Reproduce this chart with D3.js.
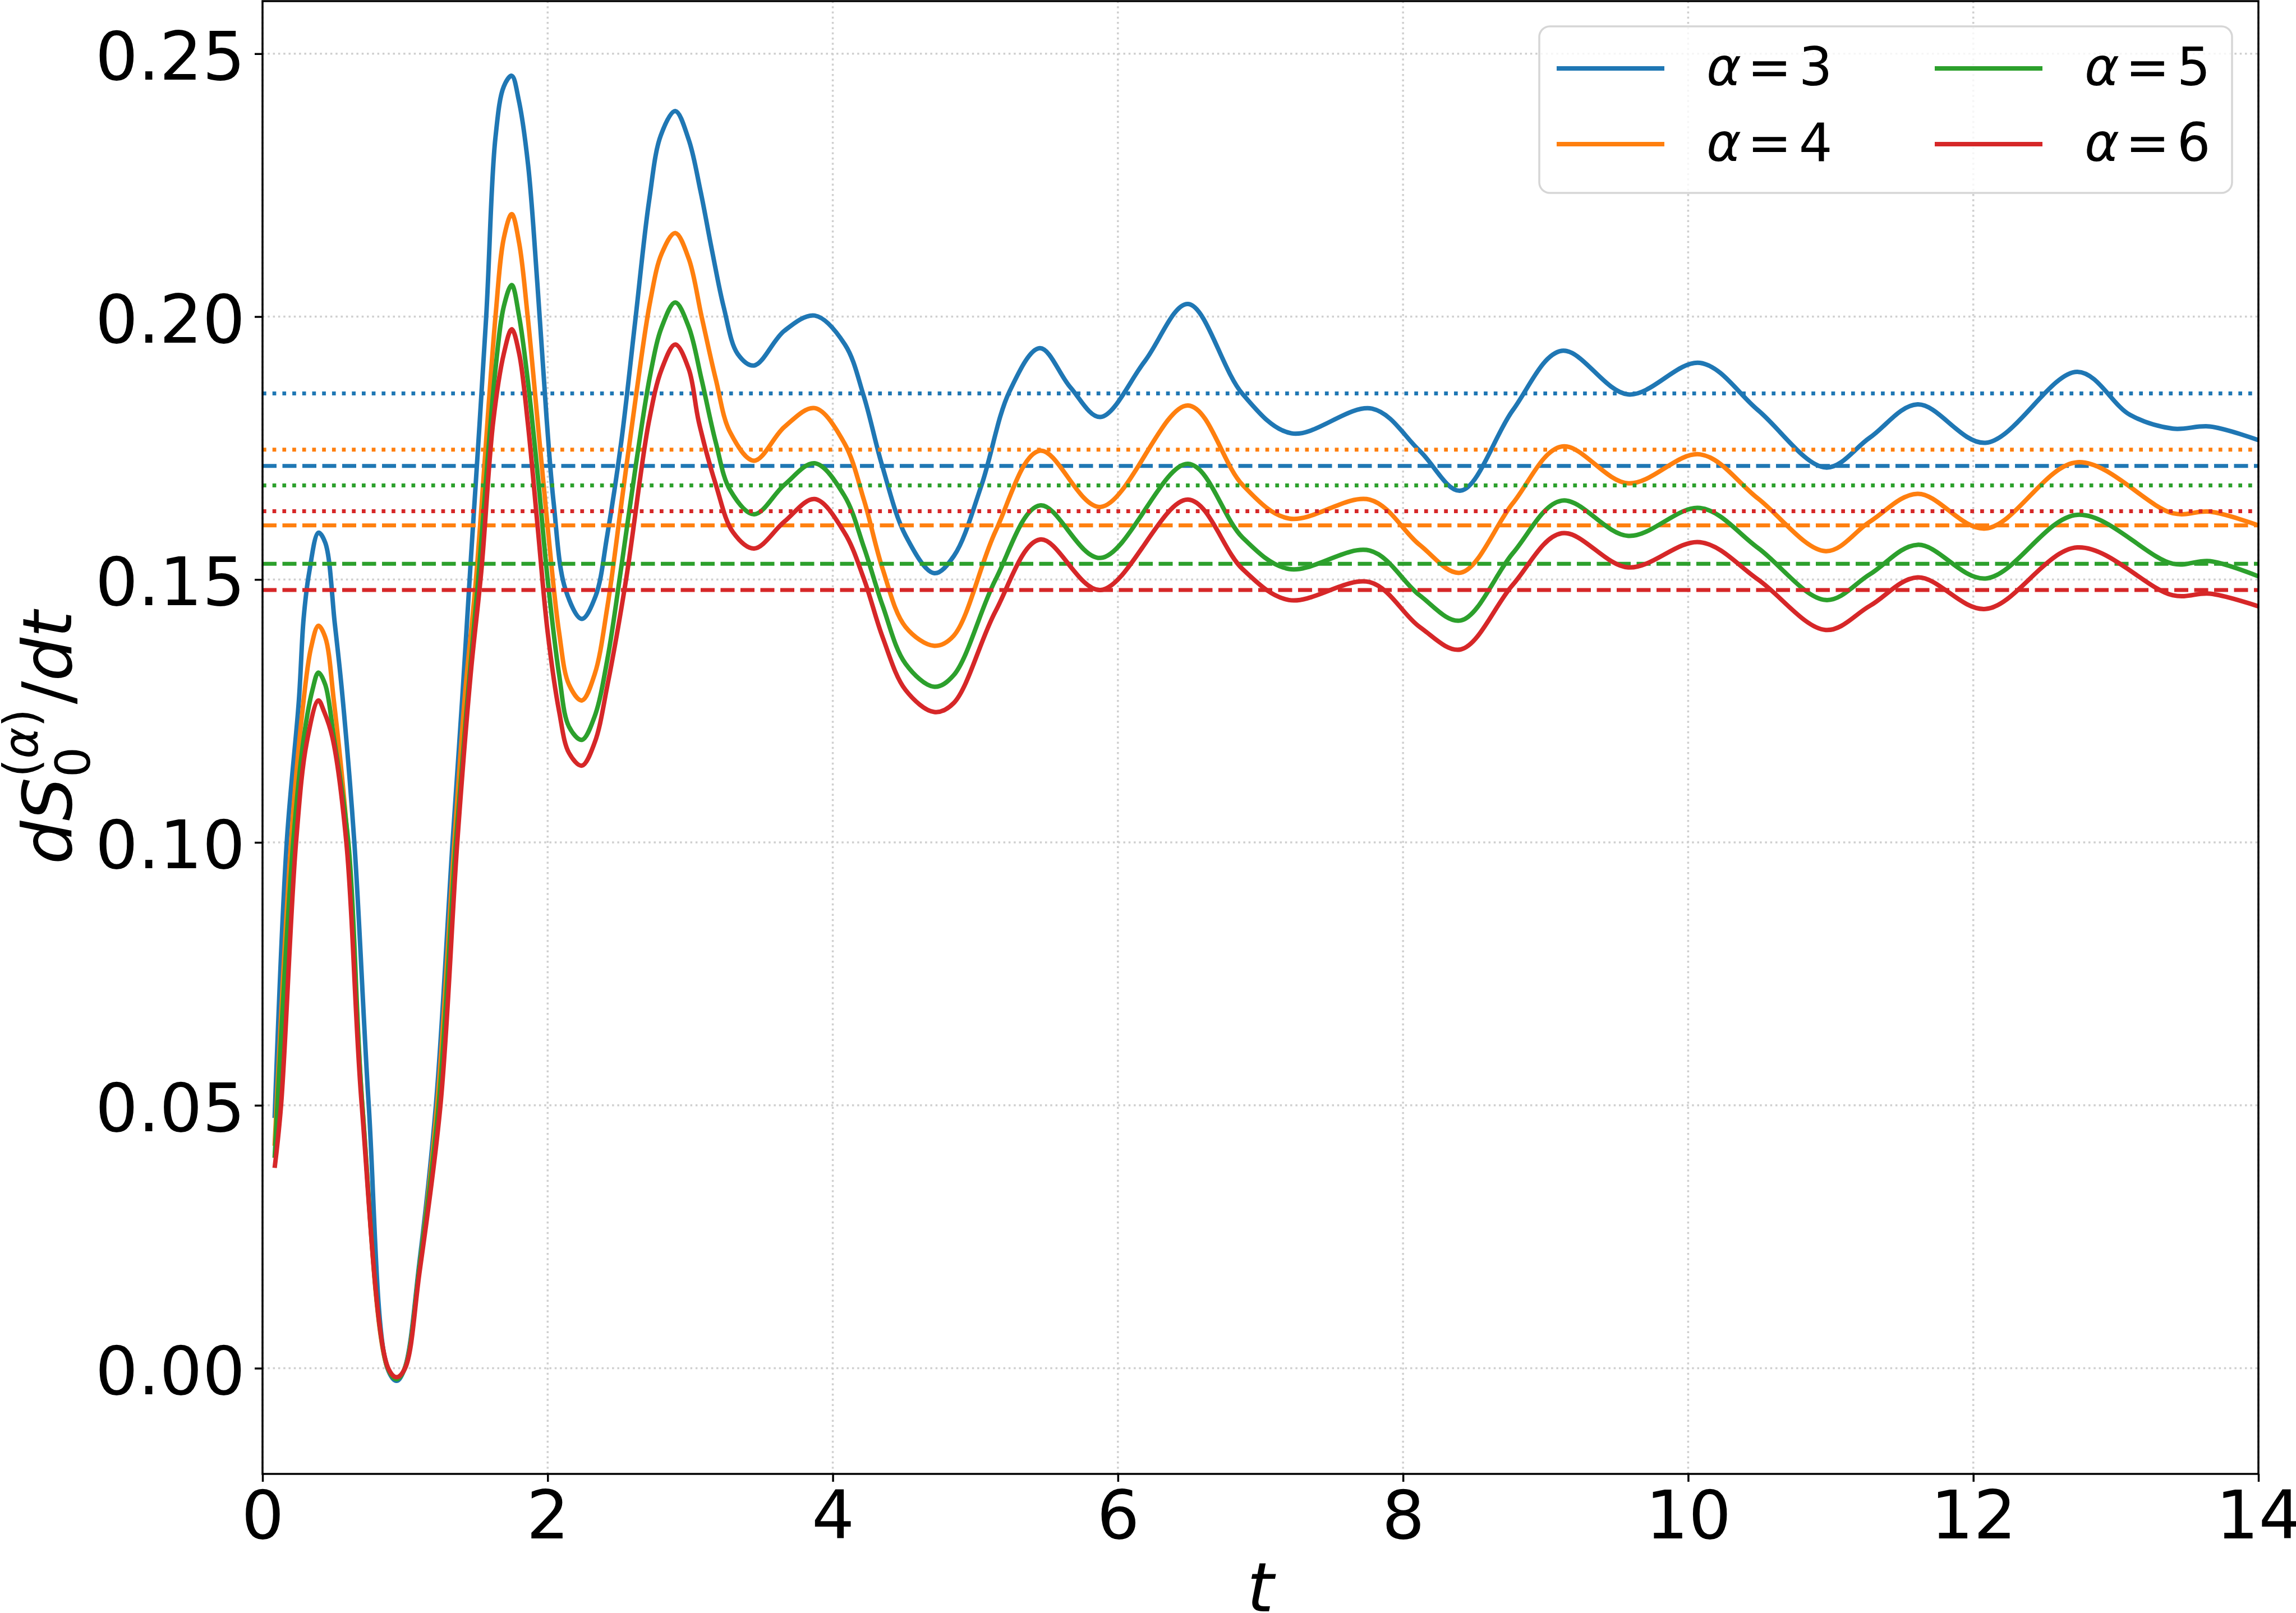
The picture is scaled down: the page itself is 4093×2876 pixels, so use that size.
<!DOCTYPE html>
<html>
<head>
<meta charset="utf-8">
<script src="https://cdn.jsdelivr.net/npm/d3@7"></script>
<style>
  html, body { margin: 0; padding: 0; background: #ffffff; }
  svg { display: block; font-family: "DejaVu Sans", sans-serif; }
</style>
</head>
<body>
<div id="chart"></div>
<script>
// values: [t, dS/dt]
const alphas = [3, 4, 5, 6];
const colors = ["#1f77b4", "#ff7f0e", "#2ca02c", "#d62728"];

const curveAlpha3 = [
  [0.085, 0.0476], [0.17, 0.100], [0.255, 0.127], [0.288, 0.1425], [0.327, 0.1513], [0.392, 0.1589],
  [0.44, 0.157], [0.507, 0.1416], [0.56, 0.128], [0.644, 0.100], [0.745, 0.050], [0.876, 0.0],
  [0.941, -0.0024], [0.997, 0.0], [1.10, 0.020], [1.216, 0.050], [1.333, 0.100], [1.40, 0.127],
  [1.464, 0.155], [1.569, 0.200], [1.634, 0.2341], [1.693, 0.2438], [1.748, 0.2458], [1.797, 0.2412],
  [1.863, 0.2288], [1.928, 0.2062], [1.993, 0.1805], [2.042, 0.1646], [2.124, 0.1482], [2.239, 0.1425],
  [2.337, 0.1469], [2.418, 0.1584], [2.516, 0.1761], [2.614, 0.1991], [2.712, 0.2221], [2.794, 0.2345],
  [2.895, 0.2391], [2.99, 0.2336], [3.072, 0.2239], [3.154, 0.2124], [3.235, 0.2018], [3.333, 0.1929],
  [3.448, 0.1907], [3.66, 0.1973], [3.873, 0.2002], [4.085, 0.1947], [4.216, 0.185], [4.346, 0.1717],
  [4.51, 0.1584], [4.712, 0.1512], [4.85, 0.1545], [5.044, 0.168], [5.24, 0.1858], [5.453, 0.194],
  [5.665, 0.1866], [5.877, 0.1809], [6.188, 0.1915], [6.492, 0.2024], [6.874, 0.1853], [7.217, 0.1778],
  [7.783, 0.1825], [8.116, 0.1745], [8.404, 0.1669], [8.77, 0.1822], [9.113, 0.1935], [9.58, 0.1852],
  [10.083, 0.1912], [10.49, 0.1822], [10.965, 0.1713], [11.275, 0.177], [11.609, 0.1833], [12.086, 0.1760],
  [12.73, 0.1895], [13.10, 0.1813], [13.40, 0.1787], [13.66, 0.1791], [14.0, 0.1765]
];

const curveAlpha4 = [
  [0.085, 0.0423], [0.20, 0.100], [0.28, 0.125], [0.34, 0.137], [0.392, 0.1412], [0.44, 0.139],
  [0.50, 0.127], [0.598, 0.100], [0.70, 0.050], [0.878, 0.0], [0.941, -0.002], [0.998, 0.0],
  [1.10, 0.019], [1.225, 0.050], [1.346, 0.100], [1.42, 0.128], [1.497, 0.150], [1.634, 0.200],
  [1.693, 0.215], [1.748, 0.2195], [1.80, 0.214], [1.86, 0.200], [1.93, 0.180], [2.0, 0.160],
  [2.08, 0.140], [2.15, 0.130], [2.24, 0.127], [2.33, 0.132], [2.42, 0.145], [2.52, 0.165],
  [2.62, 0.185], [2.72, 0.203], [2.80, 0.212], [2.895, 0.2159], [2.99, 0.211], [3.08, 0.200],
  [3.18, 0.188], [3.28, 0.178], [3.448, 0.1726], [3.66, 0.179], [3.873, 0.1826], [4.08, 0.176],
  [4.22, 0.165], [4.35, 0.152], [4.51, 0.141], [4.712, 0.1374], [4.848, 0.1393], [5.142, 0.1592],
  [5.453, 0.1745], [5.877, 0.1638], [6.492, 0.1831], [6.874, 0.168], [7.20, 0.1616], [7.766, 0.1652],
  [8.116, 0.1566], [8.404, 0.1513], [8.77, 0.1645], [9.113, 0.1753], [9.58, 0.1683], [10.083, 0.1738],
  [10.49, 0.1654], [10.965, 0.1554], [11.275, 0.161], [11.609, 0.1663], [12.086, 0.1597], [12.73, 0.1723],
  [13.40, 0.1626], [13.66, 0.1629], [14.0, 0.1603]
];

const curveAlpha5 = [
  [0.085, 0.040], [0.215, 0.100], [0.29, 0.120], [0.35, 0.129], [0.392, 0.1323], [0.44, 0.130],
  [0.50, 0.120], [0.602, 0.100], [0.70, 0.050], [0.879, 0.0], [0.941, -0.0021], [0.999, 0.0],
  [1.10, 0.019], [1.235, 0.050], [1.356, 0.100], [1.44, 0.128], [1.513, 0.150], [1.634, 0.190],
  [1.693, 0.202], [1.748, 0.206], [1.80, 0.200], [1.86, 0.188], [1.93, 0.170], [2.0, 0.150],
  [2.08, 0.132], [2.15, 0.122], [2.24, 0.1195], [2.33, 0.124], [2.42, 0.135], [2.52, 0.153],
  [2.62, 0.172], [2.72, 0.189], [2.80, 0.198], [2.895, 0.2027], [2.99, 0.198], [3.08, 0.188],
  [3.18, 0.176], [3.28, 0.167], [3.448, 0.1624], [3.66, 0.168], [3.873, 0.1721], [4.08, 0.166],
  [4.22, 0.156], [4.35, 0.145], [4.51, 0.134], [4.712, 0.1296], [4.848, 0.1318], [5.142, 0.150],
  [5.453, 0.1641], [5.877, 0.1541], [6.492, 0.172], [6.874, 0.158], [7.20, 0.152], [7.766, 0.1555],
  [8.116, 0.147], [8.404, 0.1422], [8.77, 0.155], [9.113, 0.165], [9.58, 0.1583], [10.083, 0.1636],
  [10.49, 0.156], [10.965, 0.1461], [11.275, 0.151], [11.609, 0.1566], [12.086, 0.1502], [12.73, 0.1623],
  [13.40, 0.153], [13.66, 0.1535], [14.0, 0.1506]
];

const curveAlpha6 = [
  [0.085, 0.0381], [0.13, 0.050], [0.235, 0.100], [0.31, 0.119], [0.392, 0.127], [0.43, 0.125],
  [0.49, 0.120], [0.588, 0.100], [0.696, 0.050], [0.882, 0.0], [0.941, -0.0017], [1.0, 0.0],
  [1.10, 0.018], [1.248, 0.050], [1.366, 0.100], [1.46, 0.132], [1.536, 0.152], [1.618, 0.180],
  [1.693, 0.193], [1.748, 0.1976], [1.80, 0.193], [1.86, 0.180], [1.93, 0.160], [2.0, 0.140],
  [2.08, 0.125], [2.15, 0.117], [2.24, 0.1146], [2.33, 0.119], [2.42, 0.130], [2.55, 0.150],
  [2.71, 0.180], [2.80, 0.190], [2.895, 0.1947], [2.99, 0.190], [3.06, 0.180], [3.18, 0.168],
  [3.30, 0.159], [3.448, 0.1559], [3.66, 0.161], [3.873, 0.1653], [4.08, 0.159], [4.22, 0.150],
  [4.35, 0.139], [4.51, 0.129], [4.712, 0.1248], [4.848, 0.1265], [5.142, 0.144], [5.453, 0.1576],
  [5.877, 0.148], [6.492, 0.1652], [6.874, 0.152], [7.20, 0.1461], [7.766, 0.1495], [8.116, 0.141],
  [8.404, 0.1367], [8.77, 0.149], [9.113, 0.1588], [9.58, 0.1523], [10.083, 0.1571], [10.49, 0.150],
  [10.965, 0.1404], [11.275, 0.145], [11.609, 0.1504], [12.086, 0.1444], [12.73, 0.1561], [13.40, 0.147],
  [13.66, 0.1473], [14.0, 0.1449]
];

const curves = [curveAlpha3, curveAlpha4, curveAlpha5, curveAlpha6];
const dashedLevels = [0.1716, 0.1603, 0.1530, 0.1480];
const dottedLevels = [0.1854, 0.1747, 0.1679, 0.1630];
const xTicks = [0, 2, 4, 6, 8, 10, 12, 14];
const yTicks = [0.0, 0.05, 0.10, 0.15, 0.20, 0.25];

const W = 4093, H = 2876;
const plot = { left: 468, right: 4026, top: 2, bottom: 2628 };
const LW = 8;      // data curves
const REF_LW = 7;  // horizontal reference levels

const svg = d3.select("#chart").append("svg").attr("width", W).attr("height", H);

const x = d3.scaleLinear().domain([0, 14]).range([plot.left, plot.right]);
const y = d3.scaleLinear().domain([-0.0201, 0.2600]).range([plot.bottom, plot.top]);

// grid
const grid = svg.append("g").attr("stroke", "#cfcfcf").attr("stroke-width", 3.5).attr("stroke-dasharray", "3.5 5.8");
grid.selectAll(".gx").data(xTicks).join("line")
  .attr("x1", (d) => x(d)).attr("x2", (d) => x(d))
  .attr("y1", plot.bottom).attr("y2", plot.top);
grid.selectAll(".gy").data(yTicks).join("line")
  .attr("x1", plot.left).attr("x2", plot.right)
  .attr("y1", (d) => y(d)).attr("y2", (d) => y(d));

const line = d3.line().x((d) => x(d[0])).y((d) => y(d[1])).curve(d3.curveCatmullRom.alpha(0.5));

const series = svg.append("g").attr("fill", "none");
alphas.forEach((a, i) => {
  series.append("path")
    .attr("d", line(curves[i]))
    .attr("stroke", colors[i])
    .attr("stroke-width", LW)
    .attr("stroke-linejoin", "round");
  series.append("line")
    .attr("x1", plot.left).attr("x2", plot.right)
    .attr("y1", y(dashedLevels[i])).attr("y2", y(dashedLevels[i]))
    .attr("stroke", colors[i]).attr("stroke-width", REF_LW)
    .attr("stroke-dasharray", "25 10.5");
  series.append("line")
    .attr("x1", plot.left).attr("x2", plot.right)
    .attr("y1", y(dottedLevels[i])).attr("y2", y(dottedLevels[i]))
    .attr("stroke", colors[i]).attr("stroke-width", REF_LW)
    .attr("stroke-dasharray", "6.7 11");
});

// axes
const xAxis = svg.append("g")
  .attr("transform", `translate(0,${plot.bottom})`)
  .call(d3.axisBottom(x).tickValues(xTicks).tickSize(14).tickPadding(16).tickFormat(d3.format("d")));
const yAxis = svg.append("g")
  .attr("transform", `translate(${plot.left},0)`)
  .call(d3.axisLeft(y).tickValues(yTicks).tickSize(14).tickPadding(17).tickFormat(d3.format(".2f")));

[xAxis, yAxis].forEach((g) => {
  g.select(".domain").remove();
  g.attr("font-family", "DejaVu Sans").attr("font-size", 120);
  g.selectAll(".tick line").attr("stroke", "#000").attr("stroke-width", 3.5);
  g.selectAll(".tick text").attr("fill", "#000");
});
yAxis.selectAll(".tick text").attr("dy", "0.38em");

// spines
svg.append("rect")
  .attr("x", plot.left).attr("y", plot.top)
  .attr("width", plot.right - plot.left).attr("height", plot.bottom - plot.top)
  .attr("fill", "none").attr("stroke", "#000").attr("stroke-width", 3.5);

// axis labels
svg.append("text")
  .attr("x", (plot.left + plot.right) / 2).attr("y", 2873)
  .attr("text-anchor", "middle").attr("font-size", 122).attr("font-style", "italic")
  .text("t");

const ylab = svg.append("text")
  .attr("transform", `translate(127,${(plot.top + plot.bottom) / 2}) rotate(-90)`)
  .attr("text-anchor", "middle").attr("font-size", 122);
ylab.append("tspan").attr("font-style", "italic").text("dS");
ylab.append("tspan").attr("font-size", 85).attr("dy", 33).text("0");
ylab.append("tspan").attr("font-size", 85).attr("dx", -54).attr("dy", -93).text("(");
ylab.append("tspan").attr("font-size", 85).attr("font-style", "italic").text("α");
ylab.append("tspan").attr("font-size", 85).text(")");
ylab.append("tspan").attr("dy", 60).attr("dx", 8).text("/");
ylab.append("tspan").attr("font-style", "italic").text("dt");

// legend
const legend = svg.append("g");
legend.append("rect")
  .attr("x", 2744).attr("y", 47).attr("width", 3979 - 2744).attr("height", 344 - 47)
  .attr("rx", 19).attr("ry", 19)
  .attr("fill", "#ffffff").attr("fill-opacity", 0.8)
  .attr("stroke", "#d6d6d6").attr("stroke-width", 3.5);

const colX = [2775, 3449];
const rowY = [122, 257];
alphas.forEach((a, i) => {
  const cx = colX[Math.floor(i / 2)];
  const cy = rowY[i % 2];
  const item = legend.append("g");
  item.append("line")
    .attr("x1", cx).attr("x2", cx + 192)
    .attr("y1", cy).attr("y2", cy)
    .attr("stroke", colors[i]).attr("stroke-width", LW);
  const t = item.append("text")
    .attr("x", cx + 267).attr("y", cy + 30)
    .attr("font-size", 94).attr("fill", "#000");
  t.append("tspan").attr("font-style", "italic").text("α");
  t.append("tspan").attr("dx", 11).text("=");
  t.append("tspan").attr("dx", 13).text(a);
});
</script>
</body>
</html>
